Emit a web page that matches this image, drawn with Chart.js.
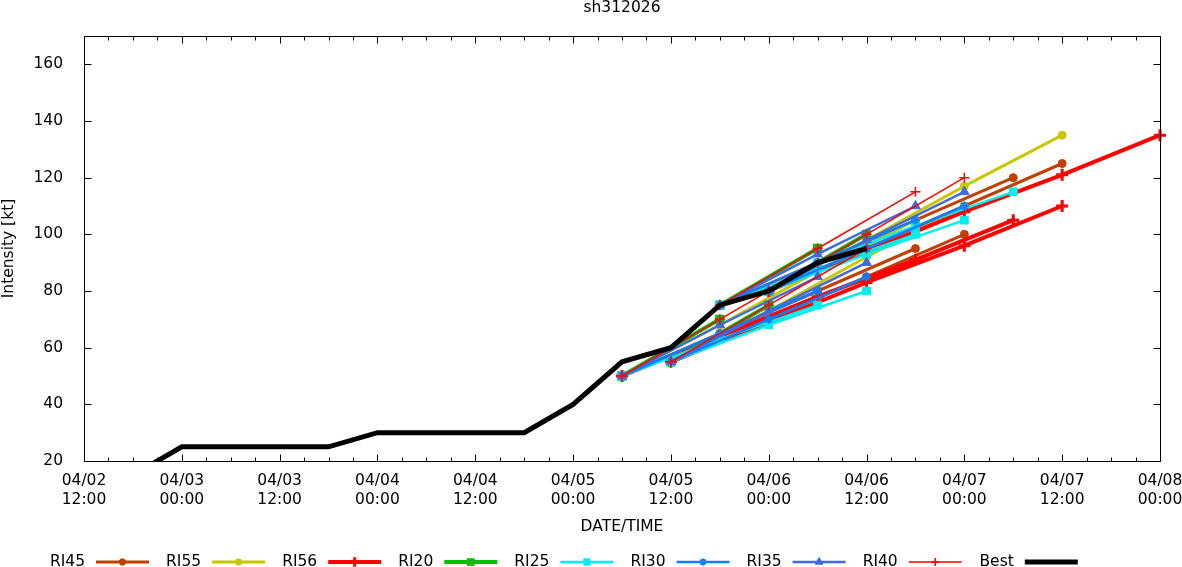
<!DOCTYPE html>
<html><head><meta charset="utf-8">
<script src="https://cdn.jsdelivr.net/npm/chart.js@4"></script>
<style>html,body{margin:0;padding:0;background:#fff;}canvas{display:block;}</style>
</head><body>
<canvas id="c" width="1182" height="567"></canvas>
<script>
// ---------- text ----------
const chartTitle = 'sh312026';
const xTitle = 'DATE/TIME';
const yTitle = 'Intensity [kt]';

// ---------- axes ----------
const xStart = '04/02 12:00';
const xEnd = '04/08 00:00';
const xTickLabels = ['04/02 12:00','04/03 00:00','04/03 12:00','04/04 00:00','04/04 12:00','04/05 00:00','04/05 12:00','04/06 00:00','04/06 12:00','04/07 00:00','04/07 12:00','04/08 00:00'];
const yTickValues = [20,40,60,80,100,120,140,160];
const yMin = 20;
const yMax = 170;

// ---------- best track ----------
const bestTimes = ['04/02 18:00','04/03 00:00','04/03 06:00','04/03 12:00','04/03 18:00','04/04 00:00','04/04 06:00','04/04 12:00','04/04 18:00','04/05 00:00','04/05 06:00','04/05 12:00','04/05 18:00','04/06 00:00','04/06 06:00','04/06 12:00'];
const bestValues = [15,25,25,25,25,30,30,30,30,40,55,60,75,80,90,95];

// ---------- RI aid forecasts: [base time, values every 12 h] ----------
const forecastStepHours = 12;
const ri45 = [['04/05 06:00',[50,65,80,95]],['04/05 12:00',[55,70,85,100]],['04/05 18:00',[75,90,105,120]],['04/06 00:00',[80,95,110,125]]];
const ri55 = [['04/05 06:00',[50,68,87,105]],['04/05 12:00',[55,73,92,110]],['04/06 00:00',[80,98,117,135]]];
const ri56 = [['04/05 06:00',[50,64,78,91,105]],['04/05 12:00',[55,69,83,96,110]],['04/06 00:00',[80,94,108,121,135]]];
const ri20 = [['04/05 06:00',[50,70]],['04/05 12:00',[55,75]],['04/05 18:00',[75,95]],['04/06 00:00',[80,100]]];
const ri25 = [['04/05 06:00',[50,63,75]],['04/05 12:00',[55,68,80]],['04/05 18:00',[75,88,100]],['04/06 00:00',[80,93,105]],['04/06 06:00',[90,103,115]]];
const ri30 = [['04/05 06:00',[50,65,80]],['04/05 12:00',[55,70,85]],['04/05 18:00',[75,90,105]],['04/06 00:00',[80,95,110]]];
const ri35 = [['04/05 06:00',[50,68,85]],['04/05 12:00',[55,73,90]],['04/05 18:00',[75,93,110]],['04/06 00:00',[80,98,115]]];
const ri40 = [['04/05 06:00',[50,70,90]],['04/05 12:00',[55,75,95]],['04/05 18:00',[75,95,115]],['04/06 00:00',[80,100,120]]];

const seriesNames = ['RI45','RI55','RI56','RI20','RI25','RI30','RI35','RI40','Best'];
const seriesForecasts = [ri45, ri55, ri56, ri20, ri25, ri30, ri35, ri40, null];

// ---------- styles ----------
const seriesStyles = [
  {color:'#c04000', width:3,   point:'circle',   radius:4,   pbw:1},
  {color:'#c8c800', width:3,   point:'circle',   radius:4,   pbw:1},
  {color:'#ff0000', width:4,   point:'cross',    radius:6,   pbw:3},
  {color:'#00c000', width:4,   point:'rect',     radius:5.5, pbw:1.5},
  {color:'#00eeee', width:2.5, point:'rect',     radius:5.5, pbw:1},
  {color:'#0a80ff', width:2.5, point:'star',     radius:4.5, pbw:2},
  {color:'#4169e1', width:2.5, point:'triangle', radius:5.5, pbw:1},
  {color:'#ff0000', width:1.5, point:'cross',    radius:5,   pbw:1.5},
  {color:'#000000', width:5,   point:false,      radius:0,   pbw:0}
];
const FONT = 'DejaVu Sans';
const FSIZE = 15.5;

function hoursFrom(s) {
  const [md, hm] = s.split(' ');
  const [m, d] = md.split('/').map(Number);
  const [h, mi] = hm.split(':').map(Number);
  const d0 = Number(xStart.split(' ')[0].split('/')[1]);
  const h0 = Number(xStart.split(' ')[1].split(':')[0]);
  return (d - d0) * 24 + (h - h0) + mi / 60;
}

function buildData(forecasts) {
  const pts = [];
  forecasts.forEach(([base, vals], k) => {
    const b = hoursFrom(base);
    if (k > 0) pts.push({x: b, y: null});
    vals.forEach((v, i) => pts.push({x: b + i * forecastStepHours, y: v}));
  });
  return pts;
}

const datasets = seriesNames.map((name, i) => {
  const st = seriesStyles[i];
  const data = seriesForecasts[i]
    ? buildData(seriesForecasts[i])
    : bestTimes.map((t, k) => ({x: hoursFrom(t), y: bestValues[k]}));
  return {
    label: name,
    data,
    borderColor: st.color,
    backgroundColor: st.color,
    borderWidth: st.width,
    pointStyle: st.point,
    pointRadius: st.radius,
    pointBorderWidth: st.pbw,
    pointBackgroundColor: st.color,
    pointBorderColor: st.color,
    tension: 0,
    spanGaps: false,
    fill: false,
    order: seriesNames.length - 1 - i,
    clip: name === 'Best' ? 0 : false
  };
});

const decor = {
  id: 'decor',
  afterDatasetsDraw(chart) {
    const {ctx, chartArea: a, scales: {x, y}} = chart;
    ctx.save();
    ctx.strokeStyle = '#000';
    ctx.lineWidth = 1;
    const L = Math.round(a.left) + 0.5, R = Math.round(a.right) + 0.5;
    const T = Math.round(a.top) + 0.5, B = Math.round(a.bottom) + 0.5;
    ctx.beginPath();
    ctx.moveTo(L, T); ctx.lineTo(R, T); ctx.lineTo(R, B); ctx.lineTo(L, B); ctx.closePath();
    const xMax = hoursFrom(xEnd);
    for (let h = 0; h <= xMax; h += 3) {
      const px = Math.round(x.getPixelForValue(h)) + 0.5;
      const len = (h % 12 === 0) ? 7 : 4;
      ctx.moveTo(px, B); ctx.lineTo(px, B - len);
      ctx.moveTo(px, T); ctx.lineTo(px, T + len);
    }
    yTickValues.forEach(v => {
      const py = Math.round(y.getPixelForValue(v)) + 0.5;
      ctx.moveTo(L, py); ctx.lineTo(L + 7, py);
      ctx.moveTo(R, py); ctx.lineTo(R - 7, py);
    });
    ctx.stroke();
    ctx.restore();
  },
  afterDraw(chart) {
    const {ctx, chartArea: a} = chart;
    ctx.save();
    ctx.fillStyle = '#000';
    ctx.font = `${FSIZE}px "${FONT}"`;
    ctx.textAlign = 'center';
    ctx.textBaseline = 'middle';
    const cx = (a.left + a.right) / 2;
    ctx.fillText(chartTitle, cx, 8);
    ctx.fillText(xTitle, cx, 527);
    ctx.save();
    ctx.translate(9, (a.top + a.bottom) / 2);
    ctx.rotate(-Math.PI / 2);
    ctx.fillText(yTitle, 0, 0);
    ctx.restore();
    // legend
    const ly = 562;
    seriesNames.forEach((name, i) => {
      const st = seriesStyles[i];
      const x0 = 50 + i * 116.1;
      ctx.fillStyle = '#000';
      ctx.textAlign = 'right';
      ctx.fillText(name, x0 + 35, ly);
      ctx.strokeStyle = st.color;
      ctx.lineWidth = st.width;
      ctx.beginPath();
      ctx.moveTo(x0 + 46, ly);
      ctx.lineTo(x0 + 99, ly);
      ctx.stroke();
      if (st.point) {
        ctx.fillStyle = st.color;
        ctx.lineWidth = st.pbw;
        Chart.helpers.drawPoint(ctx, {pointStyle: st.point, radius: st.radius * 0.8, rotation: 0, borderWidth: st.pbw}, x0 + 72.5, ly);
      }
    });
    ctx.restore();
  }
};

new Chart(document.getElementById('c'), {
  type: 'line',
  data: {datasets},
  options: {
    responsive: false,
    animation: false,
    events: [],
    layout: {padding: {left: 0, right: 22, top: 36, bottom: 0}},
    plugins: {legend: {display: false}, title: {display: false}, tooltip: {enabled: false}},
    scales: {
      x: {
        type: 'linear',
        min: 0,
        max: hoursFrom(xEnd),
        grid: {display: false},
        border: {display: false},
        afterBuildTicks: s => { s.ticks = xTickLabels.map(t => ({value: hoursFrom(t)})); },
        afterFit: s => { s.height = 106; s.paddingLeft = 0; s.paddingRight = 0; },
        ticks: {
          autoSkip: false, maxRotation: 0, minRotation: 0, padding: 3,
          color: '#000', font: {family: FONT, size: FSIZE},
          callback: (v, i) => xTickLabels[i] ? xTickLabels[i].split(' ') : ''
        }
      },
      y: {
        type: 'linear',
        min: yMin,
        max: yMax,
        grid: {display: false},
        border: {display: false},
        afterBuildTicks: s => { s.ticks = yTickValues.map(v => ({value: v})); },
        afterFit: s => { s.width = 84; s.paddingTop = 0; s.paddingBottom = 0; },
        ticks: {padding: 13, color: '#000', font: {family: FONT, size: FSIZE}}
      }
    }
  },
  plugins: [decor]
});
</script>
</body></html>
